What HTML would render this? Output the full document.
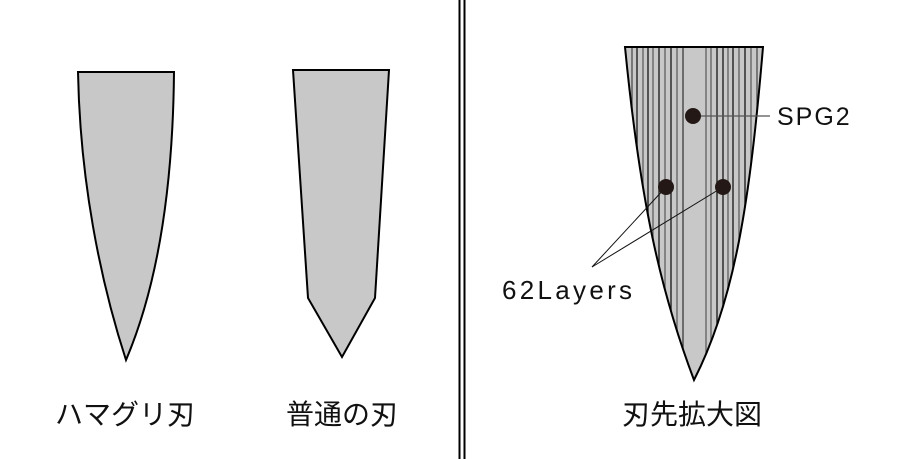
<!DOCTYPE html>
<html><head><meta charset="utf-8"><style>
html,body{margin:0;padding:0;background:#fff;}
svg{display:block;}
text{font-family:"Liberation Sans","Noto Sans CJK JP",sans-serif;fill:#111;}
</style></head><body>
<svg width="922" height="459" viewBox="0 0 922 459" xmlns="http://www.w3.org/2000/svg">
<line x1="459.5" y1="0" x2="459.5" y2="459" stroke="#000" stroke-width="2"/>
<line x1="464.5" y1="0" x2="464.5" y2="459" stroke="#000" stroke-width="2"/>
<path d="M78,72 L174,72 C173,180 160,280 126,360 C100,280 80,180 78,72 Z" fill="#c8c8c8" stroke="#000" stroke-width="2"/>
<path d="M293,70 L389,70 L375,298 L342,357 L308,298 Z" fill="#c8c8c8" stroke="#000" stroke-width="2"/>
<defs><clipPath id="c"><path d="M625,47 L763,47 C750,200 735,300 694,380 C660,290 640,200 625,47 Z"/></clipPath></defs>
<path d="M625,47 L763,47 C750,200 735,300 694,380 C660,290 640,200 625,47 Z" fill="#c8c8c8"/>
<g clip-path="url(#c)" stroke-width="1.4">
<line x1="632" y1="40" x2="632" y2="400" stroke="#555"/>
<line x1="637" y1="40" x2="637" y2="400" stroke="#222"/>
<line x1="643" y1="40" x2="643" y2="400" stroke="#666"/>
<line x1="648" y1="40" x2="648" y2="400" stroke="#222"/>
<line x1="653" y1="40" x2="653" y2="400" stroke="#666"/>
<line x1="659" y1="40" x2="659" y2="400" stroke="#222"/>
<line x1="665" y1="40" x2="665" y2="400" stroke="#666"/>
<line x1="671" y1="40" x2="671" y2="400" stroke="#222"/>
<line x1="677" y1="40" x2="677" y2="400" stroke="#666"/>
<line x1="683" y1="40" x2="683" y2="400" stroke="#444"/>
<line x1="706" y1="40" x2="706" y2="400" stroke="#666"/>
<line x1="711" y1="40" x2="711" y2="400" stroke="#666"/>
<line x1="717" y1="40" x2="717" y2="400" stroke="#222"/>
<line x1="723" y1="40" x2="723" y2="400" stroke="#222"/>
<line x1="728" y1="40" x2="728" y2="400" stroke="#666"/>
<line x1="733" y1="40" x2="733" y2="400" stroke="#222"/>
<line x1="739" y1="40" x2="739" y2="400" stroke="#666"/>
<line x1="745" y1="40" x2="745" y2="400" stroke="#222"/>
<line x1="751" y1="40" x2="751" y2="400" stroke="#666"/>
<line x1="757" y1="40" x2="757" y2="400" stroke="#555"/>
</g>
<path d="M625,47 L763,47 C750,200 735,300 694,380 C660,290 640,200 625,47 Z" fill="none" stroke="#000" stroke-width="2"/>
<line x1="693" y1="116" x2="770" y2="116" stroke="#555" stroke-width="1.3"/>
<line x1="666" y1="187" x2="592" y2="267" stroke="#111" stroke-width="1"/>
<line x1="723" y1="187" x2="592" y2="267" stroke="#111" stroke-width="1"/>
<circle cx="693" cy="116" r="8" fill="#231815"/>
<circle cx="666" cy="187" r="8" fill="#231815"/>
<circle cx="723" cy="187" r="8" fill="#231815"/>
<text x="777" y="125" font-size="25" letter-spacing="2">SPG2</text>
<text x="502" y="299" font-size="26" letter-spacing="3.3">62Layers</text>
<text x="125" y="424" font-size="28" text-anchor="middle">ハマグリ刃</text>
<text x="342" y="424" font-size="28" text-anchor="middle">普通の刃</text>
<text x="692" y="424" font-size="28" text-anchor="middle">刃先拡大図</text>
</svg>
</body></html>
